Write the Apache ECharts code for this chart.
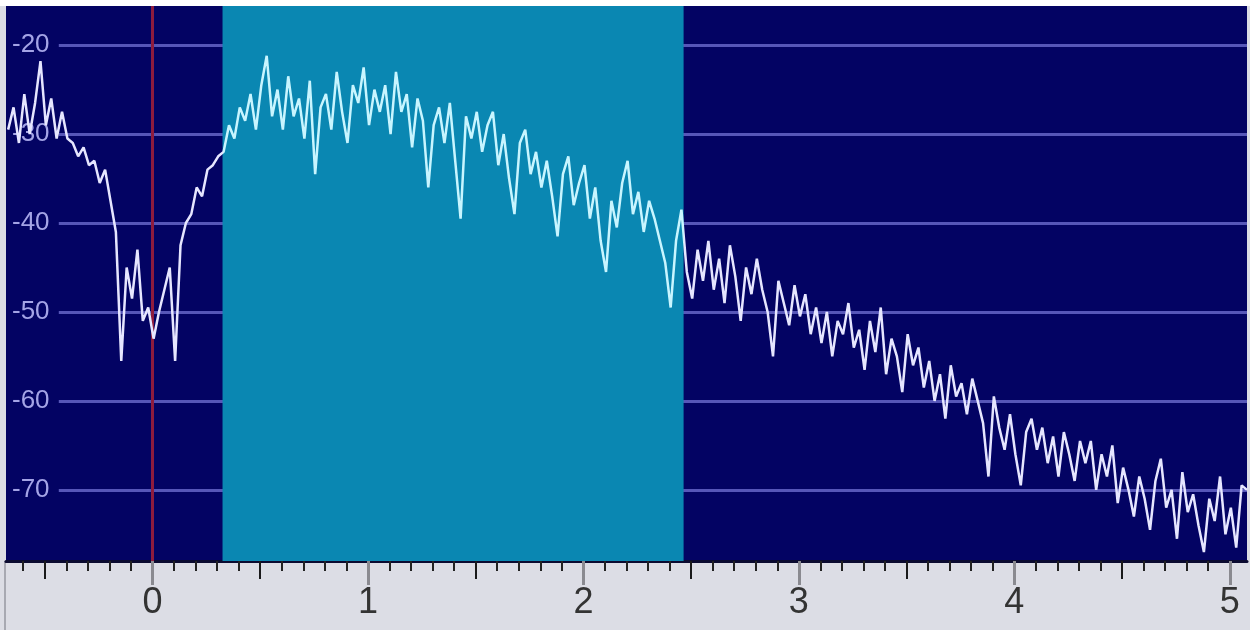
<!DOCTYPE html>
<html>
<head>
<meta charset="utf-8">
<script src="https://cdn.jsdelivr.net/npm/echarts@6/dist/echarts.min.js"></script>
<style>
  html, body { margin: 0; padding: 0; background: #dcdde5; }
  #chart { width: 1250px; height: 630px; }
</style>
</head>
<body>
<div id="chart"></div>
<script>
// spectrum samples, one every 0.025 units starting at -0.67
var sampleStart = -0.67;
var sampleStep = 0.025;
var levels = [
  -29.5, -27.0, -31.0, -25.5, -30.0, -26.5, -21.8, -29.0, -26.0, -30.5,
  -27.5, -30.5, -31.0, -32.5, -31.5, -33.5, -33.0, -35.5, -34.0, -37.5,
  -41.0, -55.5, -45.0, -48.5, -43.0, -51.0, -49.5, -53.0, -50.0, -47.5,
  -45.0, -55.5, -42.5, -40.0, -39.0, -36.0, -37.0, -34.0, -33.5, -32.5,
  -32.0, -29.0, -30.5, -27.0, -28.5, -25.5, -29.5, -24.5, -21.2, -28.0,
  -25.0, -29.5, -23.5, -28.0, -26.0, -30.5, -24.0, -34.5, -27.0, -25.5,
  -29.5, -23.0, -27.5, -31.0, -24.5, -26.5, -22.5, -29.0, -25.0, -27.5,
  -24.5, -30.0, -23.0, -27.5, -25.5, -31.5, -26.0, -28.5, -36.0, -29.0,
  -27.0, -31.0, -26.5, -33.0, -39.5, -28.0, -30.5, -27.5, -32.0, -29.0,
  -27.5, -33.5, -30.0, -35.0, -39.0, -31.0, -29.5, -34.5, -32.0, -36.0,
  -33.0, -37.0, -41.5, -34.5, -32.5, -38.0, -35.5, -33.5, -39.5, -36.0,
  -42.0, -45.5, -37.5, -40.5, -35.5, -33.0, -39.0, -36.5, -41.0, -37.5,
  -39.5, -42.0, -44.5, -49.5, -42.0, -38.5, -45.5, -48.5, -43.0, -46.5,
  -42.0, -47.5, -44.0, -49.0, -42.5, -46.0, -51.0, -45.0, -48.0, -44.0,
  -47.5, -50.0, -55.0, -46.5, -49.0, -51.5, -47.0, -50.5, -48.0, -52.5,
  -49.5, -53.5, -50.0, -55.0, -51.0, -52.5, -49.0, -54.0, -52.0, -56.5,
  -51.0, -54.5, -49.5, -57.0, -53.0, -55.0, -59.0, -52.5, -56.0, -54.0,
  -58.5, -55.5, -60.0, -57.0, -62.0, -56.0, -59.5, -58.0, -61.5, -57.5,
  -60.0, -62.5, -68.5, -59.5, -63.0, -65.5, -61.5, -66.0, -69.5, -63.5,
  -62.0, -65.5, -63.0, -67.0, -64.0, -68.5, -63.5, -66.0, -69.0, -64.5,
  -67.0, -64.5, -70.0, -66.0, -68.5, -65.0, -71.5, -67.5, -70.0, -73.0,
  -68.5, -71.0, -74.5, -69.0, -66.5, -72.0, -70.0, -75.5, -68.0, -72.5,
  -70.5, -74.0, -77.0, -71.0, -73.5, -68.5, -75.0, -72.0, -76.5, -69.5, -70.0
];
var xTickLabels = [0, 1, 2, 3, 4, 5];
var yTickLabels = [-20, -30, -40, -50, -60, -70];
var bandStart = 0.325;
var bandEnd = 2.465;
var markerX = 0;

var xMin = -0.68, xMax = 5.08;

var points = [];
for (var i = 0; i < levels.length; i++) {
  points.push([+(sampleStart + i * sampleStep).toFixed(3), levels[i]]);
}

// tick positions every 0.1, split by kind
var minorTicks = [], halfTicks = [], unitTicks = [];
for (var t = -6; t <= 50; t++) {
  var v = +(t / 10).toFixed(1);
  if (t % 10 === 0) unitTicks.push(v);
  else if (t % 5 === 0) halfTicks.push(v);
  else minorTicks.push(v);
}

var gridLines = yTickLabels.map(function (v) {
  return [{ coord: [-0.435, v] }, { coord: [xMax, v] }];
});

function tickAxis(values, len, color, width, showLine) {
  return {
    type: "value",
    min: xMin,
    max: xMax,
    position: "bottom",
    axisLine: { show: showLine, lineStyle: { color: "#0a0a30", width: 3 } },
    splitLine: { show: false },
    axisTick: {
      show: true,
      customValues: values,
      length: len,
      lineStyle: { color: color, width: width }
    },
    axisLabel: { show: false }
  };
}

var chart = echarts.init(document.getElementById("chart"));
var mainAxis = tickAxis(minorTicks, 10, "#222", 2, true);
mainAxis.axisLabel = {
  show: true,
  customValues: xTickLabels,
  margin: 24,
  color: "#333",
  fontSize: 36,
  fontFamily: "Liberation Sans Narrow, sans-serif"
};

chart.setOption({
  animation: false,
  grid: {
    left: 6,
    right: 3,
    top: 6,
    bottom: 69,
    show: true,
    backgroundColor: "#030363",
    borderWidth: 0
  },
  graphic: [
    { type: "rect", shape: { x: 0, y: 0, width: 1250, height: 6 }, style: { fill: "#ffffff" } },
    { type: "rect", shape: { x: 4, y: 561, width: 2, height: 69 }, style: { fill: "#a8a9b2" } }
  ],
  xAxis: [
    mainAxis,
    tickAxis(halfTicks, 18, "#1a1a1a", 2, false),
    tickAxis(unitTicks, 24, "#8a8a90", 3, false)
  ],
  yAxis: {
    type: "value",
    min: -78,
    max: -15.6,
    axisLine: { show: false },
    axisTick: { show: false },
    splitLine: { show: false },
    axisLabel: {
      inside: true,
      customValues: yTickLabels,
      margin: 6,
      color: "#a4a4e6",
      fontSize: 26,
      fontFamily: "Liberation Sans, sans-serif"
    }
  },
  visualMap: {
    show: false,
    type: "piecewise",
    dimension: 0,
    seriesIndex: 3,
    pieces: [
      { lt: bandStart, color: "#e6e6ff" },
      { gte: bandStart, lte: bandEnd, color: "#c8f5ff" },
      { gt: bandEnd, color: "#e6e6ff" }
    ]
  },
  series: [
    {
      type: "line",
      data: [],
      z: 1,
      markLine: {
        z: 1,
        silent: true,
        symbol: "none",
        label: { show: false },
        lineStyle: { color: "#5656b8", width: 3, type: "solid" },
        data: gridLines
      }
    },
    {
      type: "line",
      data: [],
      z: 2,
      markArea: {
        z: 2,
        silent: true,
        itemStyle: { color: "#0a87b2", opacity: 1 },
        data: [[{ xAxis: bandStart }, { xAxis: bandEnd }]]
      }
    },
    {
      type: "line",
      data: [],
      z: 3,
      markLine: {
        z: 3,
        silent: true,
        symbol: "none",
        label: { show: false },
        lineStyle: { color: "#8e1c3e", width: 3, type: "solid" },
        data: [{ xAxis: markerX }]
      }
    },
    {
      type: "line",
      z: 4,
      data: points,
      showSymbol: false,
      lineStyle: { width: 2.5 }
    }
  ]
});
</script>
</body>
</html>
